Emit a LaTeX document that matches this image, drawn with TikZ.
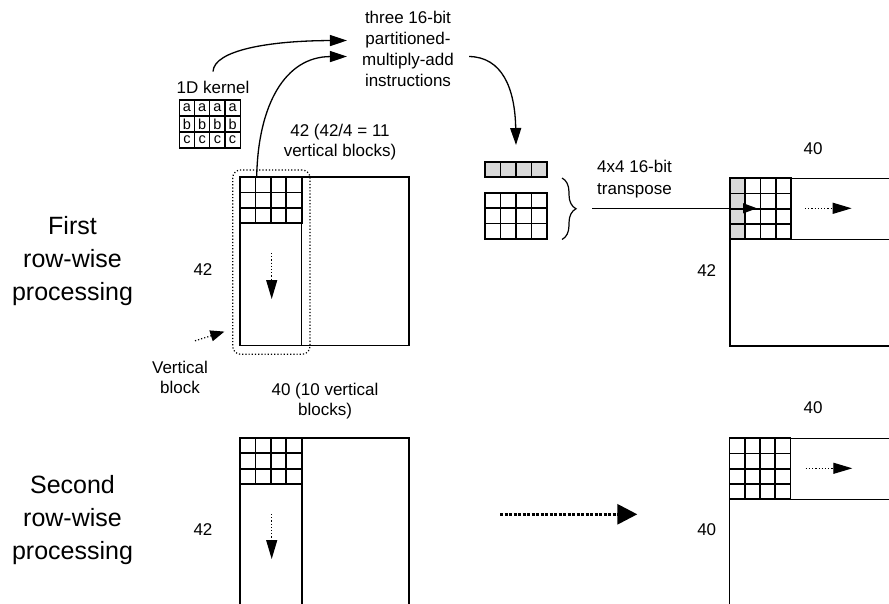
\documentclass[tikz,border=0pt]{standalone}
\usepackage{fontspec}
\setmainfont{Liberation Sans}
\usepackage{tikz}
\usetikzlibrary{arrows.meta, decorations.pathreplacing, positioning}
\definecolor{CellGray}{RGB}{217,217,217}

\tikzset{
  lbl/.style={font=\fontsize{17}{20.5}\selectfont, align=center, inner sep=0pt},
  rowlbl/.style={font=\fontsize{25}{33}\selectfont, align=center, inner sep=0pt},
  frame/.style={line width=1.2pt},
  cellline/.style={line width=1.8pt},
  kcell/.style={draw, line width=1.3pt, minimum width=15.2pt, minimum height=16pt,
    inner sep=0pt, font=\fontsize{14.5}{14.5}\selectfont},
  curvetip/.style={line width=1.3pt, -{Triangle[length=17pt,width=11pt]}},
  flowtip/.style={dotted, line width=1.2pt, -{Triangle[length=19pt,width=11pt]}},
}

\begin{document}
\begin{tikzpicture}[x=1pt, y=-1pt]
    \useasboundingbox (0,0) rectangle (889,603);
    \clip (0,0) rectangle (889,603);

    % row labels
    \node[rowlbl] (firstrow) at (72.5,261) {First\\row-wise\\processing};
    \node[rowlbl] (secondrow) at (72.5,520) {Second\\row-wise\\processing};

    % 1. 1D kernel
    \node[lbl] (kernel) at (213,87) {1D kernel};
    \foreach \l [count=\j from 0] in {a,b,c}
      \foreach \i in {0,...,3}
        \node[kcell] at ({187+15.2*\i},{108+16*\j}) {\l};

    % 2. instructions text and curved arrows
    \node[lbl, inner xsep=15pt, font=\fontsize{17}{21}\selectfont] (instr) at (408,48.5)
      {three 16-bit\\partitioned-\\multiply-add\\instructions};
    \draw[curvetip] ([yshift=9pt]kernel.north) .. controls (214,50) and (270,40.7) .. ([yshift=8pt]instr.west);

    % 3. first pass: 42 x 42 input
    \draw[frame] (240,177) rectangle (409,345.7);
    \draw[frame] (301.7,177) -- (301.7,345.7);
    \foreach \i in {0,...,3}
      \foreach \j in {0,1,2}
        \draw[cellline] ({240+15.4*\i},{177+15.4*\j}) rectangle ++(15.4,15.4);
    \draw[flowtip] (271.7,253) -- (271.7,299);
    \node[lbl] (h42a) at (203,270) {42};
    \node[lbl] (w42a) at (340,142) {42 (42/4 = 11\\vertical blocks)};
    \coordinate (striptop) at (256.7,177);
    \draw[curvetip] (striptop) .. controls (258,105) and (285,56.7) .. ([yshift=-8pt]instr.west);

    % vertical block outline
    \node[draw, dotted, line width=1.2pt, rounded corners=8pt, minimum width=77.3pt,
      minimum height=184.3pt, inner sep=0pt] (vblock) at (271.35,262.15) {};
    \node[lbl] (vlabel) at (180,377.5) {Vertical\\block};
    \draw[flowtip, -{Triangle[length=14pt,width=11pt]}] ([shift={(15pt,20pt)}]vlabel.north)
      -- ([shift={(-7.7pt,23.3pt)}]vblock.south west);

    % 4. loaded row and 4x4 block
    \node[inner sep=0pt, minimum width=62pt, minimum height=15pt] (loadrow) at (516,169.2) {};
    \foreach \i in {0,...,3}
      \draw[cellline, fill=CellGray] ({485+15.5*\i},161.7) rectangle ++(15.5,15);
    \foreach \i in {0,...,3}
      \foreach \j in {0,1,2}
        \draw[cellline] ({485+15.5*\i},{192.7+15.4*\j}) rectangle ++(15.5,15.4);
    \draw[curvetip] ([yshift=-8pt]instr.east) .. controls (502,57) and (515,88) .. ([yshift=16.5pt]loadrow.north);

    % brace and transpose arrow
    \draw[decorate, decoration={brace, amplitude=14pt}, line width=1.2pt] (562,178) -- (562,239.5);
    \coordinate (bracetip) at (577,208.3);
    \coordinate (transin) at (757,208.3);
    \node[lbl, anchor=west, align=left, font=\fontsize{17}{22}\selectfont] (translbl) at (597,179)
      {4x4 16-bit\\transpose};

    % 5. first pass output
    \draw[frame] (730,178.3) rectangle (900,346);
    \draw[frame] (791,239.3) -- (900,239.3);
    \foreach \j in {0,...,3}
      \draw[cellline, fill=CellGray] (730,{178.3+15.25*\j}) rectangle ++(15.25,15.25);
    \foreach \i in {1,2,3}
      \foreach \j in {0,...,3}
        \draw[cellline] ({730+15.25*\i},{178.3+15.25*\j}) rectangle ++(15.25,15.25);
    \draw[line width=1.2pt, -{Triangle[length=14pt,width=10pt]}] ([xshift=15pt]bracetip) -- (transin);
    \draw[flowtip] (805,208.3) -- (851.7,208.3);
    \node[lbl] (w40a) at (813,149) {40};
    \node[lbl] (h42b) at (706.7,270.7) {42};

    % 6. second pass input
    \draw[frame] (240,438) rectangle (409,620);
    \draw[frame] (302,438) -- (302,620);
    \foreach \i in {0,...,3}
      \foreach \j in {0,1,2}
        \draw[cellline] ({240+15.4*\i},{438+15.3*\j}) rectangle ++(15.4,15.3);
    \draw[flowtip] (271.7,514) -- (271.7,559);
    \node[lbl] (h42c) at (203,530) {42};
    \node[lbl] (w40b) at (325,401) {40 (10 vertical\\blocks)};

    % big dotted arrow
    \draw[line width=3pt, dash pattern=on 3pt off 1.5pt, -{Triangle[length=20pt,width=20pt]}]
      (500,514.3) -- (637.3,514.3);

    % 7. second pass output
    \draw[frame] (729.5,438.3) rectangle (900,620);
    \draw[frame] (790.5,499.3) -- (900,499.3);
    \foreach \i in {0,...,3}
      \foreach \j in {0,...,3}
        \draw[cellline] ({729.5+15.25*\i},{438.3+15.25*\j}) rectangle ++(15.25,15.25);
    \draw[flowtip] (805.7,468.3) -- (852.3,468.3);
    \node[lbl] (w40c) at (813,408) {40};
    \node[lbl] (h40) at (706.7,530) {40};
\end{tikzpicture}
\end{document}
